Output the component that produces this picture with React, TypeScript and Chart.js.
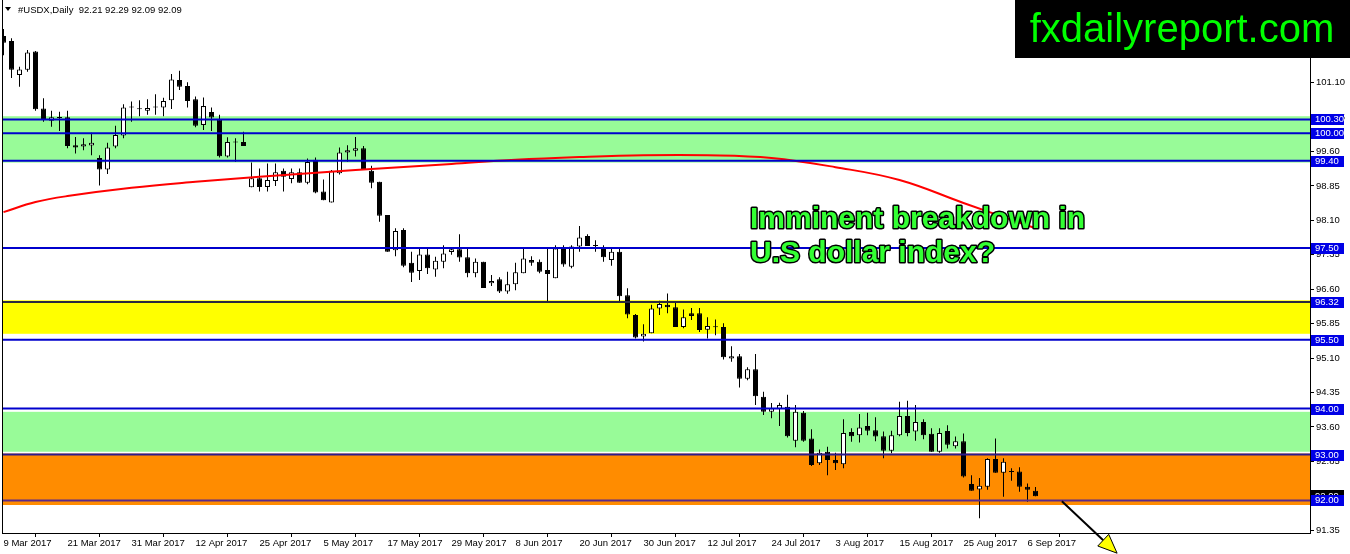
import React, { useEffect, useRef } from "react";
import { Chart, registerables } from "chart.js";

Chart.register(...registerables);

// ---- data ----
const tickBars = [0, 8, 16, 24, 32, 40, 48, 56, 64, 72, 80, 88, 96, 104, 112, 120, 128];
const tickLabels = [
  "9 Mar 2017", "21 Mar 2017", "31 Mar 2017", "12 Apr 2017", "25 Apr 2017", "5 May 2017",
  "17 May 2017", "29 May 2017", "8 Jun 2017", "20 Jun 2017", "30 Jun 2017", "12 Jul 2017",
  "24 Jul 2017", "3 Aug 2017", "15 Aug 2017", "25 Aug 2017", "6 Sep 2017",
];

const opens = [
  102.12, 102.01, 101.27, 101.38, 101.78, 100.54, 100.27, 100.34, 100.35, 99.74,
  99.71, 99.73, 99.46, 99.21, 99.71, 99.95, 100.58, 100.52, 100.49, 100.56,
  100.56, 100.72, 101.16, 101.03, 100.74, 100.18, 100.46, 100.30, 99.49, 99.81,
  99.81, 98.82, 99.02, 98.83, 98.96, 99.18, 99.00, 99.15, 98.92, 99.42,
  98.73, 98.49, 99.13, 99.58, 99.62, 99.67, 99.18, 98.94, 98.22, 97.45,
  97.89, 97.18, 97.00, 97.36, 97.03, 97.20, 97.41, 97.47, 97.30, 96.95,
  97.20, 96.73, 96.82, 96.55, 96.71, 96.95, 97.24, 97.20, 97.02, 96.84,
  97.51, 97.09, 97.53, 97.76, 97.55, 97.51, 97.24, 97.42, 96.47, 96.04,
  95.57, 95.64, 96.18, 96.26, 96.21, 95.78, 96.08, 96.08, 95.72, 95.78,
  95.78, 95.09, 95.14, 94.65, 94.86, 94.26, 93.93, 93.99, 94.04, 93.30,
  93.91, 93.35, 92.81, 93.06, 92.88, 92.79, 93.49, 93.42, 93.62, 93.53,
  93.40, 93.08, 93.42, 93.84, 93.50, 93.71, 93.45, 93.06, 93.51, 93.18,
  93.29, 92.36, 92.24, 92.30, 92.90, 92.60, 92.63, 92.63, 92.30, 92.21,
];
const highs = [
  102.27, 102.07, 101.45, 101.81, 101.79, 100.76, 100.49, 100.47, 100.49, 99.92,
  99.89, 100.01, 99.52, 99.79, 100.16, 100.63, 100.69, 100.72, 100.74, 100.85,
  100.77, 101.29, 101.36, 101.11, 100.80, 100.78, 100.56, 100.40, 99.91, 99.89,
  100.03, 99.36, 99.23, 99.34, 99.34, 99.23, 99.23, 99.23, 99.45, 99.47,
  98.99, 99.20, 99.69, 99.74, 99.92, 99.72, 99.29, 98.94, 98.22, 97.93,
  97.93, 97.42, 97.49, 97.49, 97.31, 97.56, 97.49, 97.80, 97.49, 97.27,
  97.20, 96.91, 96.86, 96.98, 97.18, 97.51, 97.32, 97.25, 97.51, 97.56,
  97.56, 97.56, 97.98, 97.80, 97.67, 97.56, 97.49, 97.49, 96.62, 96.06,
  95.84, 96.26, 96.35, 96.51, 96.33, 96.16, 96.19, 96.19, 95.99, 95.94,
  95.86, 95.36, 95.19, 94.90, 95.19, 94.37, 94.12, 94.13, 94.30, 94.08,
  93.95, 93.55, 93.11, 93.17, 93.04, 93.77, 93.57, 93.88, 93.91, 93.81,
  93.50, 93.52, 94.15, 94.17, 94.08, 93.77, 93.57, 93.57, 93.64, 93.39,
  93.46, 92.55, 92.49, 92.92, 93.35, 92.92, 92.70, 92.72, 92.37, 92.29,
];
const lows = [
  101.70, 101.20, 101.01, 101.34, 100.49, 100.25, 100.14, 100.05, 99.67, 99.56,
  99.63, 99.52, 98.86, 99.11, 99.67, 99.89, 100.25, 100.37, 100.40, 100.40,
  100.37, 100.53, 100.94, 100.56, 100.13, 100.07, 100.05, 99.47, 99.47, 99.38,
  99.72, 98.82, 98.73, 98.73, 98.85, 98.73, 98.91, 98.92, 98.89, 98.69,
  98.54, 98.49, 99.10, 99.38, 99.49, 99.20, 98.80, 98.07, 97.42, 97.32,
  97.08, 96.76, 96.80, 96.93, 96.87, 97.06, 97.35, 97.20, 96.86, 96.86,
  96.63, 96.67, 96.52, 96.50, 96.58, 96.95, 97.11, 96.95, 96.34, 96.84,
  97.09, 97.06, 97.42, 97.54, 97.42, 97.20, 97.11, 96.33, 95.97, 95.53,
  95.46, 95.64, 96.04, 96.08, 95.78, 95.75, 95.93, 95.67, 95.53, 95.60,
  95.07, 95.02, 94.46, 94.62, 94.08, 93.86, 93.79, 93.62, 93.37, 93.16,
  93.28, 92.75, 92.77, 92.55, 92.66, 92.70, 93.28, 93.26, 93.42, 93.29,
  92.92, 93.03, 93.40, 93.40, 93.30, 93.33, 93.06, 93.04, 93.13, 93.13,
  92.50, 92.21, 91.61, 92.23, 92.60, 92.08, 92.43, 92.19, 91.97, 92.09,
];
const closes = [
  101.97, 101.38, 101.39, 101.76, 100.52, 100.29, 100.35, 100.33, 99.72, 99.69,
  99.76, 99.79, 99.21, 99.69, 99.96, 100.56, 100.56, 100.53, 100.55, 100.57,
  100.70, 101.17, 101.01, 100.70, 100.16, 100.59, 100.34, 99.50, 99.81, 99.80,
  99.72, 99.02, 98.83, 98.98, 99.15, 99.05, 99.15, 98.92, 99.37, 98.71,
  98.54, 99.18, 99.58, 99.63, 99.67, 99.20, 98.92, 98.20, 97.42, 97.87,
  97.11, 96.96, 97.36, 97.06, 97.22, 97.38, 97.47, 97.29, 96.95, 97.20,
  96.63, 96.78, 96.55, 96.71, 96.97, 97.27, 97.18, 96.98, 96.93, 97.49,
  97.14, 97.53, 97.73, 97.54, 97.54, 97.30, 97.42, 96.45, 96.05, 95.55,
  95.63, 96.18, 96.28, 96.21, 95.78, 95.99, 96.02, 95.71, 95.80, 95.77,
  95.12, 95.14, 94.65, 94.86, 94.27, 93.93, 94.01, 94.08, 93.40, 93.93,
  93.30, 92.77, 93.04, 92.88, 92.81, 93.47, 93.40, 93.59, 93.52, 93.39,
  93.08, 93.42, 93.84, 93.47, 93.71, 93.42, 93.06, 93.47, 93.21, 93.29,
  92.52, 92.21, 92.32, 92.90, 92.60, 92.84, 92.62, 92.30, 92.23, 92.09,
];

// moving average (red line), read at selected bars
const maBars = [0, 4, 8, 16, 24, 32, 40, 48, 56, 64, 72, 80, 88, 96, 104, 112, 120, 129];
const maValues = [
  98.28, 98.50, 98.63, 98.81, 98.94, 99.05, 99.15, 99.24, 99.33, 99.42,
  99.48, 99.52, 99.52, 99.46, 99.26, 98.98, 98.48, 97.93,
];

const priceTicks = [91.35, 92.1, 92.85, 93.6, 94.35, 95.1, 95.85, 96.6, 97.35, 98.1, 98.85, 99.6, 100.35, 101.1];
const levelLines = [100.3, 100.0, 99.4, 97.5, 96.32, 95.5, 94.0, 93.0, 92.0];
const zoneTops = [100.37, 96.36, 93.93, 93.02];
const zoneBottoms = [99.36, 95.63, 93.06, 91.9];
const zoneColors = ["#98fb98", "#ffff00", "#98fb98", "#ff8c00"];
const lineColors = ["#0000cd", "#0000cd", "#0000cd", "#0000cd", "#2a2a40", "#0000cd", "#0000cd", "#2c1c8c", "#5a2a8a"];
const bidPrice = 92.09;
const headerText = "#USDX,Daily  92.21 92.29 92.09 92.09";
const noteLines = ["Imminent breakdown in", "U.S dollar index?"];
const watermark = "fxdailyreport.com";
const arrowFrom = { x: 132.3, y: 91.98 };
const arrowTo = { x: 139.2, y: 90.85 };

const FONT = "'Liberation Sans', Arial, sans-serif";

export default function App() {
  const ref = useRef<HTMLCanvasElement | null>(null);

  useEffect(() => {
    const canvas = ref.current;
    if (!canvas) return;

    const bars = opens.map((_, i) => i);
    const bodyColors = bars.map((i) => (closes[i] >= opens[i] ? "#ffffff" : "#000000"));

    const overlay = {
      id: "overlay",
      beforeDatasetsDraw(chart: any) {
        const { ctx, chartArea } = chart;
        const ys = chart.scales.y;
        ctx.save();
        zoneTops.forEach((t, k) => {
          const y1 = ys.getPixelForValue(t);
          const y2 = ys.getPixelForValue(zoneBottoms[k]);
          ctx.fillStyle = zoneColors[k];
          ctx.fillRect(chartArea.left, y1, chartArea.right - chartArea.left, y2 - y1);
        });
        ctx.restore();
      },
      afterDatasetsDraw(chart: any) {
        const { ctx, chartArea } = chart;
        const ys = chart.scales.y;
        ctx.save();
        levelLines.forEach((v, k) => {
          const y = ys.getPixelForValue(v);
          ctx.strokeStyle = lineColors[k];
          ctx.lineWidth = 2;
          ctx.beginPath();
          ctx.moveTo(chartArea.left, y);
          ctx.lineTo(chartArea.right, y);
          ctx.stroke();
        });
        ctx.restore();
      },
      afterDraw(chart: any) {
        const { ctx, chartArea } = chart;
        const ys = chart.scales.y;
        const xs = chart.scales.x;
        ctx.save();
        // frame left border
        ctx.strokeStyle = "#000";
        ctx.lineWidth = 1;
        ctx.beginPath();
        ctx.moveTo(chartArea.left - 0.5, 0);
        ctx.lineTo(chartArea.left - 0.5, chartArea.bottom + 1);
        ctx.stroke();

        // bid price box
        const by = ys.getPixelForValue(bidPrice);
        ctx.fillStyle = "#000";
        ctx.fillRect(chartArea.right + 1, Math.round(by) - 6, 33, 12);
        ctx.font = `9.5px ${FONT}`;
        ctx.textBaseline = "middle";
        ctx.textAlign = "left";
        ctx.fillStyle = "#fff";
        ctx.fillText(bidPrice.toFixed(2), chartArea.right + 5, Math.round(by));

        // level labels
        levelLines.forEach((v) => {
          const y = Math.round(ys.getPixelForValue(v));
          ctx.fillStyle = "#0000e6";
          ctx.fillRect(chartArea.right + 1, y - 5, 33, 11);
          ctx.fillStyle = "#ffffff";
          ctx.fillText(v.toFixed(2), chartArea.right + 5, y + 0.5);
        });

        // header
        ctx.fillStyle = "#000";
        ctx.beginPath();
        ctx.moveTo(5, 7);
        ctx.lineTo(11, 7);
        ctx.lineTo(8, 11);
        ctx.closePath();
        ctx.fill();
        ctx.font = `9.5px ${FONT}`;
        ctx.textBaseline = "middle";
        ctx.fillText(headerText, 18, 10);

        // watermark
        ctx.fillStyle = "#000";
        ctx.fillRect(1015, 0, 335, 58);
        ctx.fillStyle = "#00ff00";
        ctx.font = `40px ${FONT}`;
        ctx.textAlign = "center";
        ctx.textBaseline = "alphabetic";
        ctx.fillText(watermark, 1182, 42);

        // annotation text
        ctx.font = `bold 30px ${FONT}`;
        ctx.textAlign = "left";
        ctx.lineJoin = "round";
        ctx.lineWidth = 3;
        ctx.strokeStyle = "#000";
        ctx.fillStyle = "#33ff33";
        noteLines.forEach((t, k) => {
          const yy = 228 + k * 34;
          ctx.strokeText(t, 750, yy);
          ctx.fillText(t, 750, yy);
        });

        // arrow
        const x1 = xs.getPixelForValue(arrowFrom.x);
        const y1 = ys.getPixelForValue(arrowFrom.y);
        const x2 = xs.getPixelForValue(arrowTo.x);
        const y2 = ys.getPixelForValue(arrowTo.y);
        const ang = Math.atan2(y2 - y1, x2 - x1);
        const len = 19;
        const hw = 8;
        const bx = x2 - len * Math.cos(ang);
        const byy = y2 - len * Math.sin(ang);
        ctx.strokeStyle = "#000";
        ctx.lineWidth = 2;
        ctx.beginPath();
        ctx.moveTo(x1, y1);
        ctx.lineTo(bx, byy);
        ctx.stroke();
        ctx.beginPath();
        ctx.moveTo(x2, y2);
        ctx.lineTo(bx - hw * Math.sin(ang), byy + hw * Math.cos(ang));
        ctx.lineTo(bx + hw * Math.sin(ang), byy - hw * Math.cos(ang));
        ctx.closePath();
        ctx.fillStyle = "#ffff00";
        ctx.fill();
        ctx.lineWidth = 1;
        ctx.stroke();
        ctx.restore();
      },
    };

    const chart = new Chart(canvas, {
      type: "bar",
      data: {
        datasets: [
          {
            type: "line",
            label: "MA",
            data: maBars.map((b, k) => ({ x: b, y: maValues[k] })),
            borderColor: "#ff0000",
            borderWidth: 2,
            pointRadius: 0,
            tension: 0.4,
          } as any,
          {
            label: "body",
            data: bars.map((i) => ({ x: i, y: [Math.min(opens[i], closes[i]), Math.max(opens[i], closes[i])] })),
            backgroundColor: bodyColors,
            borderColor: "#000000",
            borderWidth: 1,
            borderSkipped: false,
            barThickness: 5,
            minBarLength: 1,
            grouped: false,
            inflateAmount: 0,
          } as any,
          {
            label: "wick",
            data: bars.map((i) => ({ x: i, y: [lows[i], highs[i]] })),
            backgroundColor: "#000000",
            borderWidth: 0,
            barThickness: 1,
            grouped: false,
            inflateAmount: 0,
          } as any,
        ],
      },
      options: {
        responsive: false,
        animation: false,
        events: [],
        layout: { padding: { left: 3, top: 0, right: 0, bottom: 0 } },
        plugins: { legend: { display: false }, tooltip: { enabled: false } },
        scales: {
          x: {
            type: "linear",
            min: -0.0625,
            max: 163.3125,
            offset: false,
            afterBuildTicks: (s: any) => {
              s.ticks = tickBars.map((v) => ({ value: v }));
            },
            afterFit: (s: any) => {
              s.height = 21;
              s.paddingLeft = 0;
              s.paddingRight = 0;
              s.paddingTop = 0;
              s.paddingBottom = 0;
            },
            grid: { drawOnChartArea: false, drawTicks: true, tickLength: 4, color: "#000" },
            border: { display: true, color: "#000", width: 1 },
            ticks: {
              autoSkip: false,
              maxRotation: 0,
              minRotation: 0,
              align: "start",
              padding: 1,
              color: "#000",
              font: { family: FONT, size: 9.5 },
              callback: (_v: any, idx: number) => tickLabels[idx],
            },
          } as any,
          y: {
            type: "linear",
            position: "right",
            min: 91.29,
            max: 102.902,
            afterBuildTicks: (s: any) => {
              s.ticks = priceTicks.map((v) => ({ value: v }));
            },
            afterFit: (s: any) => {
              s.width = 40;
              s.paddingLeft = 0;
              s.paddingRight = 0;
              s.paddingTop = 0;
              s.paddingBottom = 0;
            },
            grid: { drawOnChartArea: false, drawTicks: true, tickLength: 4, color: "#000" },
            border: { display: true, color: "#000", width: 1 },
            ticks: {
              autoSkip: false,
              padding: 2,
              color: "#000",
              font: { family: FONT, size: 9.5 },
              callback: (v: any) => Number(v).toFixed(2),
            },
          } as any,
        },
      },
      plugins: [overlay],
    } as any);

    return () => {
      chart.destroy();
    };
  }, []);

  return (
    <div style={{ position: "fixed", left: 0, top: 0, width: 1350, height: 554, background: "#fff" }}>
      <canvas ref={ref} width={1350} height={554} style={{ display: "block", width: 1350, height: 554 }} />
    </div>
  );
}
